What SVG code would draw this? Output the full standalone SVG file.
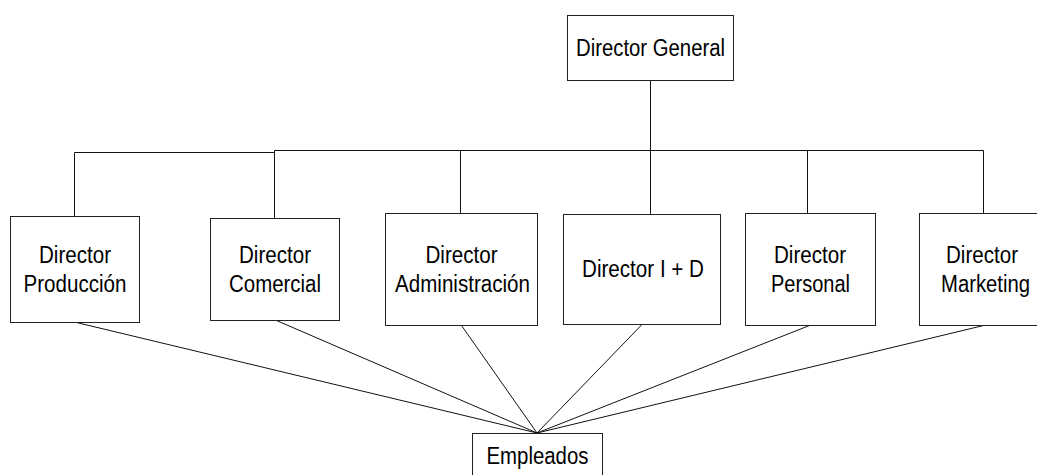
<svg xmlns="http://www.w3.org/2000/svg" width="1037" height="475" viewBox="0 0 1037 475">
<style>
.box{fill:#fff;stroke:#222;stroke-width:1}
.ln{fill:none;stroke:#111;stroke-width:1}
text{font-family:"Liberation Sans",Arial,sans-serif;font-size:23px;fill:#000;text-anchor:middle}
</style>
<rect width="1037" height="475" fill="#fff"/>
<g id="connectors">
<path class="ln" d="M74.5 216.5 V152.5 H274.5"/>
<path class="ln" d="M274.5 218.5 V150.5 H983.5 V213.5"/>
<path class="ln" d="M650.5 80.5 V214.5"/>
<path class="ln" d="M460.5 150.5 V213.5"/>
<path class="ln" d="M807.5 150.5 V213.5"/>
<line class="ln" x1="76.5" y1="322.5" x2="537" y2="433"/>
<line class="ln" x1="276.5" y1="320.5" x2="537" y2="433"/>
<line class="ln" x1="461.5" y1="325.5" x2="537" y2="433"/>
<line class="ln" x1="642" y1="324.5" x2="537" y2="433"/>
<line class="ln" x1="809.5" y1="325.5" x2="537" y2="433"/>
<line class="ln" x1="983.5" y1="325.5" x2="537" y2="433"/>
</g>
<g id="director-general">
<rect class="box" x="567.5" y="15.5" width="166" height="65"/>
<text x="650.5" y="56" textLength="149" lengthAdjust="spacingAndGlyphs">Director General</text>
</g>
<g id="director-produccion">
<rect class="box" x="10.5" y="216.5" width="129" height="106"/>
<text x="75" y="263" textLength="72" lengthAdjust="spacingAndGlyphs">Director</text>
<text x="75" y="292" textLength="103" lengthAdjust="spacingAndGlyphs">Producción</text>
</g>
<g id="director-comercial">
<rect class="box" x="210.5" y="218.5" width="129" height="102"/>
<text x="275" y="263" textLength="72" lengthAdjust="spacingAndGlyphs">Director</text>
<text x="275" y="292" textLength="92" lengthAdjust="spacingAndGlyphs">Comercial</text>
</g>
<g id="director-administracion">
<rect class="box" x="385.5" y="213.5" width="152" height="112"/>
<text x="461.5" y="263" textLength="72" lengthAdjust="spacingAndGlyphs">Director</text>
<text x="462.5" y="292" textLength="135" lengthAdjust="spacingAndGlyphs">Administración</text>
</g>
<g id="director-id">
<rect class="box" x="563.5" y="214.5" width="157" height="110"/>
<text x="643" y="277" textLength="122" lengthAdjust="spacingAndGlyphs">Director I + D</text>
</g>
<g id="director-personal">
<rect class="box" x="745.5" y="213.5" width="130" height="112"/>
<text x="810" y="263" textLength="72" lengthAdjust="spacingAndGlyphs">Director</text>
<text x="810.5" y="292" textLength="79" lengthAdjust="spacingAndGlyphs">Personal</text>
</g>
<g id="director-marketing">
<rect class="box" x="919.5" y="213.5" width="130" height="112"/>
<text x="982" y="263" textLength="72" lengthAdjust="spacingAndGlyphs">Director</text>
<text x="985.5" y="292" textLength="89" lengthAdjust="spacingAndGlyphs">Marketing</text>
</g>
<g id="empleados">
<rect class="box" x="472.5" y="433.5" width="130" height="50"/>
<text x="537.5" y="464" textLength="102" lengthAdjust="spacingAndGlyphs">Empleados</text>
</g>
</svg>
